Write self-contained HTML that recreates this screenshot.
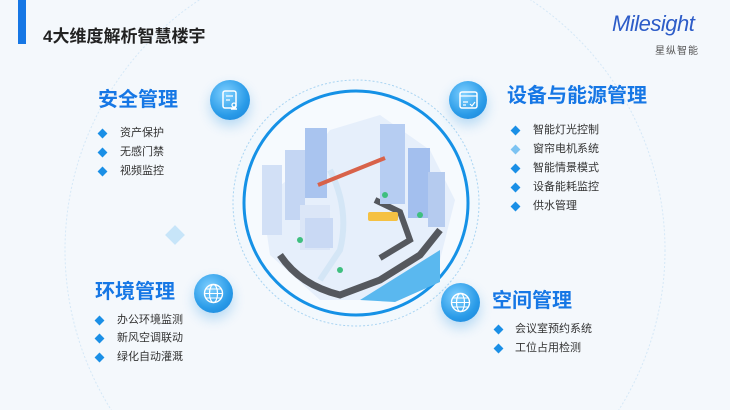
<!DOCTYPE html>
<html><head><meta charset="utf-8"><style>
*{margin:0;padding:0;box-sizing:border-box}
html,body{width:730px;height:410px;overflow:hidden}
body{background:#f4f8fc;font-family:"Liberation Sans","Noto Sans CJK SC",sans-serif;position:relative}
svg{display:block}
.a{position:absolute;white-space:nowrap}
.h{font-weight:bold;color:#1677e5;font-size:20px;line-height:24px}
.li{font-size:11px;color:#333;line-height:14px}
.d{position:absolute;width:7px;height:7px;background:#1a8fe6;transform:rotate(45deg)}
.ic{position:absolute;border-radius:50%;background:radial-gradient(circle at 40% 35%,#7fd0ff,#2a9be8 60%,#1580d8);box-shadow:0 6px 12px rgba(40,150,230,.3)}
.ic svg{position:absolute;left:0;top:0}
</style></head><body>
<svg class="a" style="left:0;top:0" width="730" height="410">
<circle cx="365" cy="250" r="300" fill="none" stroke="#d5e8f7" stroke-width="1" stroke-dasharray="2 2"/>
<circle cx="356" cy="203" r="123" fill="#f2f8fd" stroke="#a9d4f2" stroke-width="1" stroke-dasharray="2 2"/>
<circle cx="356" cy="203" r="112" fill="#f6fafe" stroke="#1591e6" stroke-width="3"/>
<rect x="168" y="228" width="14" height="14" fill="#a8d8f7" opacity=".6" transform="rotate(45 175 235)"/>
<g>
<path d="M262 200 L300 170 L330 130 L380 115 L430 150 L455 200 L440 260 L380 300 L320 300 L270 255 Z" fill="#e6effb"/>
<path d="M280 255 Q300 285 340 295 L380 280 L420 255 L440 230" fill="none" stroke="#55585e" stroke-width="7"/>
<path d="M375 200 L400 212 L410 240 L380 258" fill="none" stroke="#55585e" stroke-width="6"/>
<path d="M330 170 Q350 210 340 250 L320 280" fill="none" stroke="#d4e6f6" stroke-width="6"/>
<rect x="305" y="128" width="22" height="70" fill="#a9c4ef"/><rect x="380" y="124" width="25" height="80" fill="#b6cdf2"/>
<rect x="285" y="150" width="20" height="70" fill="#c4d6f3"/><rect x="408" y="148" width="22" height="70" fill="#a3bfee"/>
<rect x="262" y="165" width="20" height="70" fill="#d2e0f6"/><rect x="428" y="172" width="17" height="55" fill="#b5cbef"/>
<rect x="300" y="205" width="30" height="45" fill="#dbe6f7"/><rect x="305" y="218" width="28" height="30" fill="#c9d9f4"/>
<path d="M318 185 L385 158" stroke="#d8624a" stroke-width="4"/>
<rect x="368" y="212" width="30" height="9" rx="2" fill="#f5c143"/>
<circle cx="300" cy="240" r="3" fill="#3fbf7f"/><circle cx="340" cy="270" r="3" fill="#3fbf7f"/><circle cx="420" cy="215" r="3" fill="#3fbf7f"/><circle cx="385" cy="195" r="3" fill="#3fbf7f"/>
<path d="M360 300 L440 250 L440 282 L395 302Z" fill="#5ab8ef"/>
</g>
</svg>
<div class="a" style="left:18px;top:0;width:8px;height:44px;background:#1677e5"></div>
<div class="a" style="left:43px;top:22px;font-size:17px;font-weight:bold;color:#222">4大维度解析智慧楼宇</div>
<div class="a" style="left:612px;top:11px;font-size:22px;font-style:italic;color:#2d5cc8;letter-spacing:-0.5px">Milesight</div>
<div class="a" style="left:655px;top:42px;font-size:10px;color:#555;letter-spacing:1px">星纵智能</div>

<div class="a h" style="left:98px;top:88px">安全管理</div>
<div class="ic" style="left:210px;top:80px;width:40px;height:40px"><svg width="40" height="40"><rect x="13" y="11" width="13" height="17" rx="2" fill="none" stroke="#fff" stroke-width="1.5"/><path d="M16 16h7M16 20h4" stroke="#fff" stroke-width="1.3"/><circle cx="24" cy="25" r="2" fill="none" stroke="#fff" stroke-width="1.3"/><path d="M21 29h6" stroke="#fff" stroke-width="1.5"/></svg></div>
<div class="d" style="left:99px;top:130px"></div><div class="a li" style="left:120px;top:126px">资产保护</div>
<div class="d" style="left:99px;top:149px"></div><div class="a li" style="left:120px;top:145px">无感门禁</div>
<div class="d" style="left:99px;top:168px"></div><div class="a li" style="left:120px;top:164px">视频监控</div>

<div class="a h" style="left:507px;top:84px">设备与能源管理</div>
<div class="ic" style="left:449px;top:81px;width:38px;height:38px"><svg width="38" height="38"><rect x="11" y="11" width="17" height="16" rx="2" fill="none" stroke="#fff" stroke-width="1.5"/><path d="M11 15h17M14 21h5M14 24h3M21 23l2 2 3-4" stroke="#fff" stroke-width="1.2" fill="none"/></svg></div>
<div class="d" style="left:512px;top:127px"></div><div class="a li" style="left:533px;top:123px">智能灯光控制</div>
<div class="d" style="left:512px;top:146px;background:#7cc3f2"></div><div class="a li" style="left:533px;top:142px">窗帘电机系统</div>
<div class="d" style="left:512px;top:165px"></div><div class="a li" style="left:533px;top:161px">智能情景模式</div>
<div class="d" style="left:512px;top:184px"></div><div class="a li" style="left:533px;top:180px">设备能耗监控</div>
<div class="d" style="left:512px;top:203px"></div><div class="a li" style="left:533px;top:199px">供水管理</div>

<div class="a h" style="left:95px;top:280px">环境管理</div>
<div class="ic" style="left:194px;top:274px;width:39px;height:39px"><svg width="39" height="39"><circle cx="19.5" cy="19.5" r="9" fill="none" stroke="#fff" stroke-width="1.4"/><ellipse cx="19.5" cy="19.5" rx="4" ry="9" fill="none" stroke="#fff" stroke-width="1.2"/><path d="M10.5 19.5h18M12 15h15M12 24h15" stroke="#fff" stroke-width="1.1"/></svg></div>
<div class="d" style="left:96px;top:317px"></div><div class="a li" style="left:117px;top:313px">办公环境监测</div>
<div class="d" style="left:96px;top:335px"></div><div class="a li" style="left:117px;top:331px">新风空调联动</div>
<div class="d" style="left:96px;top:354px"></div><div class="a li" style="left:117px;top:350px">绿化自动灌溉</div>

<div class="a h" style="left:492px;top:289px">空间管理</div>
<div class="ic" style="left:441px;top:283px;width:39px;height:39px"><svg width="39" height="39"><circle cx="19.5" cy="19.5" r="9" fill="none" stroke="#fff" stroke-width="1.4"/><ellipse cx="19.5" cy="19.5" rx="4" ry="9" fill="none" stroke="#fff" stroke-width="1.2"/><path d="M10.5 19.5h18M12 15h15M12 24h15" stroke="#fff" stroke-width="1.1"/></svg></div>
<div class="d" style="left:495px;top:326px"></div><div class="a li" style="left:515px;top:322px">会议室预约系统</div>
<div class="d" style="left:495px;top:345px"></div><div class="a li" style="left:515px;top:341px">工位占用检测</div>
</body></html>
